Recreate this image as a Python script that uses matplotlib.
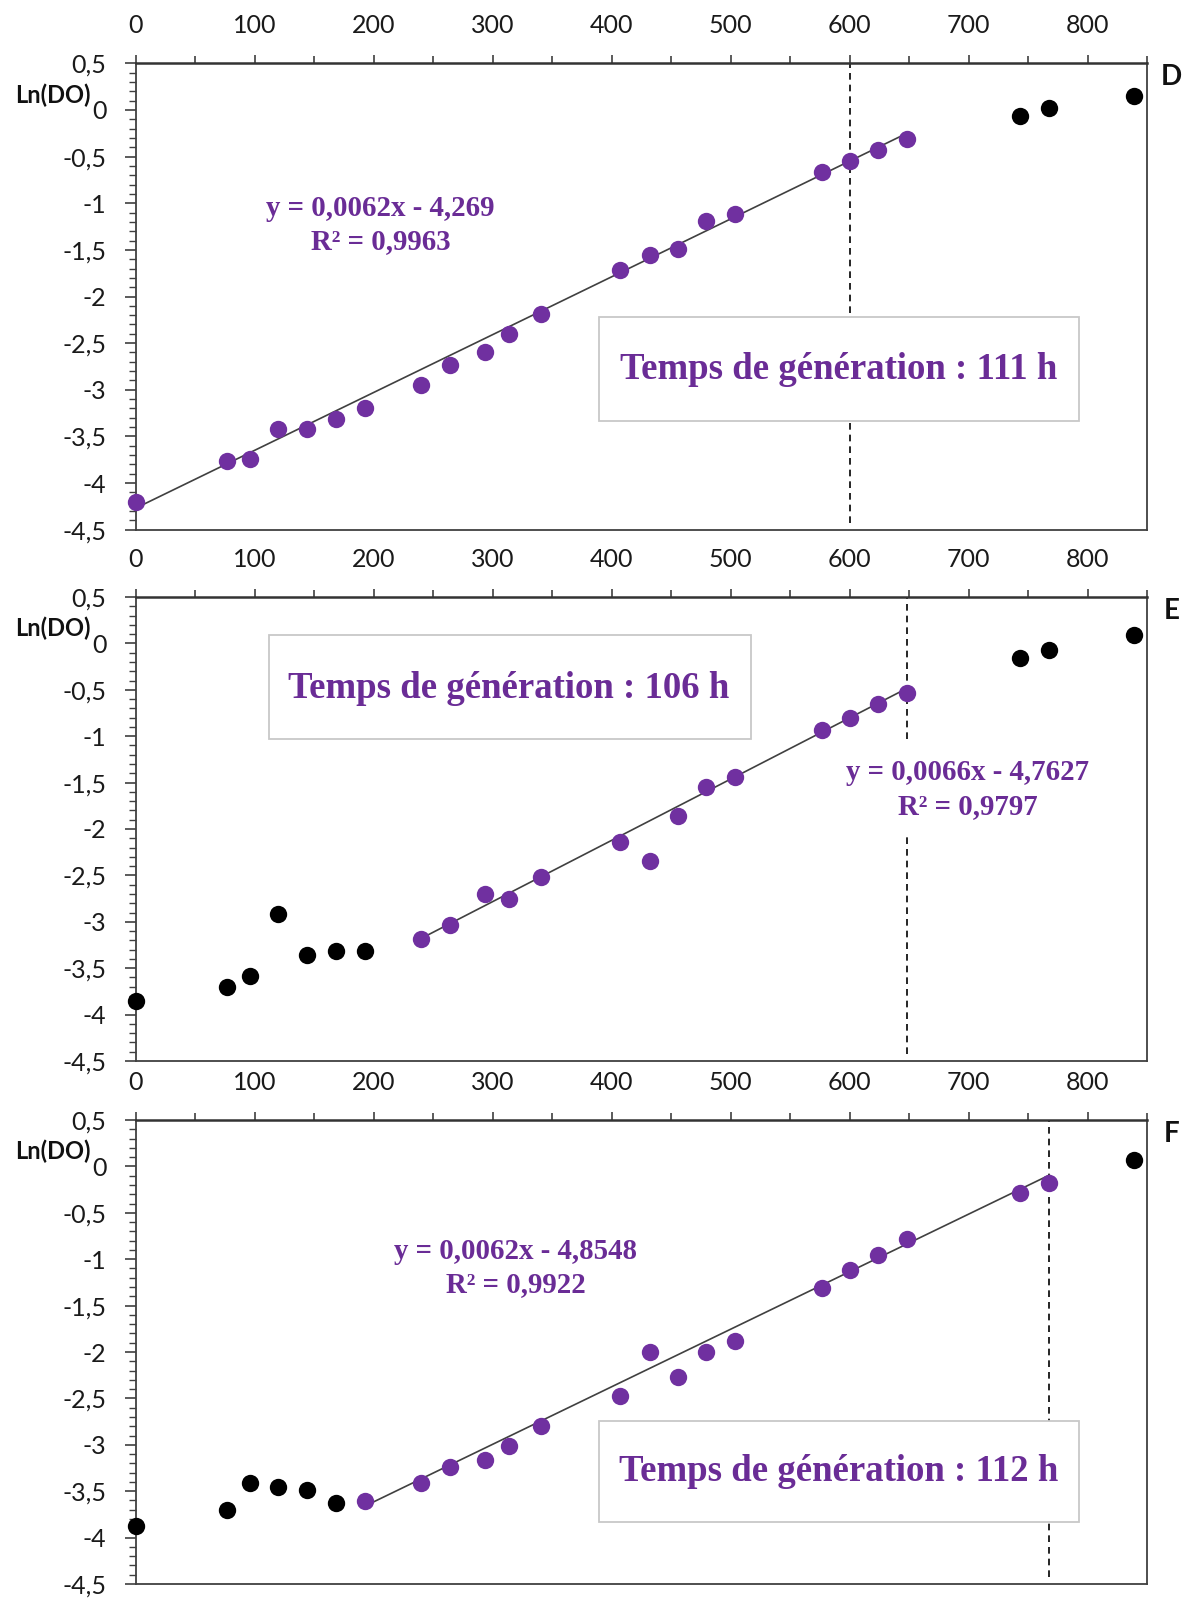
import matplotlib
matplotlib.use("Agg")
import matplotlib.pyplot as plt
from matplotlib.patches import Rectangle
from matplotlib.ticker import MultipleLocator, FuncFormatter

# ---------------- data ----------------
times = [0, 77, 96, 120, 144, 168, 193, 240, 264, 294, 314, 341, 407, 432,
         456, 479, 504, 577, 600, 624, 648, 743, 768, 839]

ln_do_D = [-4.20, -3.76, -3.74, -3.42, -3.42, -3.31, -3.20, -2.95, -2.73, -2.59,
           -2.40, -2.19, -1.72, -1.56, -1.49, -1.19, -1.12, -0.67, -0.55, -0.43,
           -0.31, -0.06, 0.02, 0.15]
ln_do_E = [-3.85, -3.70, -3.58, -2.92, -3.36, -3.32, -3.32, -3.19, -3.03, -2.70,
           -2.75, -2.52, -2.14, -2.35, -1.86, -1.55, -1.44, -0.93, -0.80, -0.65,
           -0.53, -0.16, -0.07, 0.09]
ln_do_F = [-3.87, -3.70, -3.41, -3.46, -3.49, -3.63, -3.61, -3.41, -3.24, -3.16,
           -3.01, -2.80, -2.47, -2.00, -2.27, -2.00, -1.88, -1.31, -1.12, -0.96,
           -0.78, -0.29, -0.18, 0.07]

panel_letters = ["D", "E", "F"]
fit_start = [0, 240, 193]
fit_end = [648, 648, 768]
slopes = [0.0062, 0.0066, 0.0062]
intercepts = [-4.269, -4.7627, -4.8548]
eq_texts = ["y = 0,0062x - 4,269\nR² = 0,9963",
            "y = 0,0066x - 4,7627\nR² = 0,9797",
            "y = 0,0062x - 4,8548\nR² = 0,9922"]
gen_texts = ["Temps de génération : 111 h",
             "Temps de génération : 106 h",
             "Temps de génération : 112 h"]
dashed_x = [600, 648, 768]

x_ticks = [0, 100, 200, 300, 400, 500, 600, 700, 800]
y_label = "Ln(DO)"

# ---------------- layout/style ----------------
PURPLE = "#7030A0"
TXT_PURPLE = "#6A2C96"
AX_COL = "#404040"
W, H = 1192, 1600
fig = plt.figure(figsize=(W / 100, H / 100), dpi=100)

panel_px = [(63.3, 529.7), (597, 1061), (1120, 1584)]  # top, bottom in px
left_px, right_px = 135.7, 1147

box_rects = [(0.458, 0.234, 0.475, 0.223),
             (0.132, 0.695, 0.476, 0.224),
             (0.458, 0.133, 0.475, 0.219)]
box_text_pos = [(0.695, 0.344), (0.369, 0.802), (0.695, 0.243)]
eq_pos = [(0.242, 0.654), (0.823, 0.585), (0.376, 0.681)]
eq_bg = [False, True, False]

all_y = [ln_do_D, ln_do_E, ln_do_F]

for i in range(3):
    top, bot = panel_px[i]
    ax = fig.add_axes([left_px / W, 1 - bot / H, (right_px - left_px) / W, (bot - top) / H])
    ax.set_xlim(0, 850)
    ax.set_ylim(-4.5, 0.5)

    ys = all_y[i]
    px = [t for t, y in zip(times, ys) if fit_start[i] <= t <= fit_end[i]]
    py = [y for t, y in zip(times, ys) if fit_start[i] <= t <= fit_end[i]]
    bx = [t for t, y in zip(times, ys) if not (fit_start[i] <= t <= fit_end[i])]
    by = [y for t, y in zip(times, ys) if not (fit_start[i] <= t <= fit_end[i])]

    # dashed reference line
    ax.axvline(dashed_x[i], ymin=0.015, ymax=1, color="black", lw=1.2,
               ls=(0, (4, 3)), zorder=1)

    # trendline
    lx = [fit_start[i], fit_end[i]]
    ly = [slopes[i] * v + intercepts[i] for v in lx]
    ax.plot(lx, ly, color=AX_COL, lw=1.2, zorder=3)

    ax.plot(px, py, "o", color=PURPLE, ms=12.5, mew=0, zorder=4, clip_on=False)
    ax.plot(bx, by, "o", color="black", ms=12.5, mew=0, zorder=4, clip_on=False)

    # text box
    r = Rectangle(box_rects[i][:2], box_rects[i][2], box_rects[i][3],
                  transform=ax.transAxes, facecolor="white", edgecolor="#c8c8c8",
                  lw=1.3, zorder=5)
    ax.add_patch(r)
    ax.text(*box_text_pos[i], gen_texts[i], transform=ax.transAxes, ha="center",
            va="center", fontsize=26.5, fontweight="bold", family="Liberation Serif",
            color=TXT_PURPLE, zorder=6)

    # equation
    kw = {}
    if eq_bg[i]:
        kw["bbox"] = dict(boxstyle="square,pad=0.6", fc="white", ec="none")
    ax.text(*eq_pos[i], eq_texts[i], transform=ax.transAxes, ha="center",
            va="center", fontsize=20.8, fontweight="bold", family="Liberation Serif",
            color=TXT_PURPLE, linespacing=1.3, zorder=6, **kw)

    # axes styling
    ax.xaxis.tick_top()
    ax.set_xticks(x_ticks)
    ax.xaxis.set_minor_locator(MultipleLocator(50))
    ax.yaxis.set_major_locator(MultipleLocator(0.5))
    ax.yaxis.set_minor_locator(MultipleLocator(0.1))
    ax.yaxis.set_major_formatter(FuncFormatter(lambda v, p: f"{v:g}".replace(".", ",").replace("−", "-")))
    ax.tick_params(axis="x", which="major", direction="out", length=6, width=1.2,
                   color=AX_COL, labelsize=18, pad=13, labelcolor="#1a1a1a")
    ax.tick_params(axis="x", which="minor", direction="out", length=5, width=1.2,
                   color=AX_COL)
    ax.tick_params(axis="y", which="major", direction="out", length=8, width=1.2,
                   color=AX_COL, labelsize=18, pad=13, labelcolor="#1a1a1a")
    ax.tick_params(axis="y", which="minor", direction="out", length=5, width=1.0,
                   color=AX_COL)
    for lab in ax.get_xticklabels() + ax.get_yticklabels():
        lab.set_family("Lato")
    for s in ["left", "right", "bottom"]:
        ax.spines[s].set_color(AX_COL)
        ax.spines[s].set_linewidth(1.3)
    ax.spines["top"].set_color("#333333")
    ax.spines["top"].set_linewidth(1.8)

    ax.text(-0.082, 0.16, y_label, transform=ax.get_yaxis_transform(),
            ha="center", va="center", fontsize=17, fontweight="bold",
            family="Lato", color="#111111")
    ax.text(1.024, 0.97, panel_letters[i], transform=ax.transAxes, ha="center",
            va="center", fontsize=20, fontweight="bold", family="Lato",
            color="#111111")

fig.savefig("out.png", dpi=100, facecolor="white")
